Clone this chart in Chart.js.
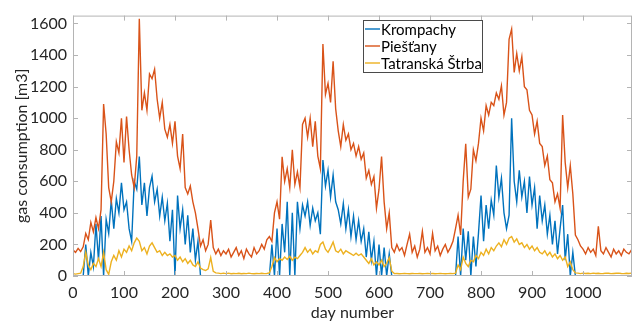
<!DOCTYPE html>
<html>
<head>
<meta charset="utf-8">
<script src="https://cdn.jsdelivr.net/npm/chart.js@4"></script>
<style>
  body { margin: 0; background: #fff; }
  #wrap { width: 637px; height: 322px; }
</style>
</head>
<body>
<div id="wrap"><canvas id="gas" width="637" height="322"></canvas></div>
<script>
// day numbers, sampled every 5 days
const days = Array.from({ length: 220 }, (_, i) => i * 5);

const krompachy = [
  0, 0, 0, 0, 0, 200, 0, 150, 60, 330, 100, 380, 0, 360, 270, 480, 300, 490, 400, 590,
  420, 470, 300, 220, 600, 550, 757, 450, 590, 380, 560, 633, 470, 550, 380, 500, 350, 460, 220, 420,
  0, 510, 300, 420, 200, 385, 150, 300, 100, 220, 0, 0, 0, 0, 0, 0, 0, 0, 0, 0,
  0, 0, 0, 0, 0, 0, 0, 0, 0, 0, 0, 0, 0, 0, 0, 0, 0, 0, 200, 0,
  300, 0, 330, 150, 470, 0, 400, 0, 470, 300, 450, 380, 470, 320, 430, 350, 400, 265, 735, 570,
  670, 500, 640, 470, 420, 330, 460, 300, 420, 250, 380, 230, 350, 220, 300, 120, 280, 100, 220, 0,
  200, 0, 180, 0, 140, 0, 0, 0, 0, 0, 0, 0, 0, 0, 0, 0, 0, 0, 0, 0,
  0, 0, 0, 0, 0, 0, 0, 0, 0, 0, 0, 250, 0, 300, 100, 283, 0, 250, 60, 270,
  510, 220, 450, 300, 480, 385, 700, 500, 620, 400, 300, 385, 1000, 600, 470, 670, 500, 600, 400, 630,
  450, 560, 300, 510, 350, 450, 265, 385, 200, 350, 140, 300, 450, 100, 265, 0, 150, 0, 0, 0,
  0, 0, 0, 0, 0, 0, 0, 0, 0, 0, 0, 0, 0, 0, 0, 0, 0, 0, 0, 0
];

const piestany = [
  165, 150, 175, 155, 185, 270, 230, 340, 280, 370, 300, 420, 1090, 900, 560, 470, 600, 850, 780, 1000,
  720, 1010, 800, 640, 560, 760, 1630, 1050, 1160, 1050, 1280, 1250, 1310, 1120, 1000, 1100, 930, 880, 960, 840,
  980, 760, 680, 900, 560, 520, 570, 470, 400, 300, 190, 230, 160, 200, 355, 180, 140, 170, 130, 160,
  140, 170, 120, 150, 180, 130, 160, 110, 170, 140, 120, 180, 140, 160, 200, 170, 230, 250, 220, 400,
  470, 360, 755, 600, 680, 560, 800, 580, 660, 560, 960, 1000, 880, 1000, 820, 980, 760, 680, 1470, 1150,
  1220, 1100, 1360, 1060, 920, 820, 960, 860, 900, 800, 840, 760, 820, 740, 780, 620, 670, 580, 630, 430,
  550, 757, 470, 300, 400, 180, 150, 200, 160, 180, 130, 200, 265, 150, 190, 120, 170, 283, 150, 180,
  140, 270, 160, 190, 130, 170, 200, 150, 180, 220, 300, 385, 260, 600, 837, 500, 550, 800, 730, 840,
  1000, 920, 1080, 1020, 1100, 1080, 1160, 1120, 1205, 1020, 1100, 1500, 1565, 1290, 1410, 1300, 1390, 1200, 1180, 1050,
  1020, 900, 980, 840, 820, 700, 760, 610, 590, 470, 520, 430, 1020, 720, 560, 700, 520, 260, 230, 190,
  170, 140, 180, 150, 170, 130, 315, 160, 140, 180, 150, 120, 170, 140, 160, 130, 170, 150, 140, 165
];

const tatranska = [
  15, 12, 15, 18, 60, 150, 70, 40, 80, 60, 110, 60, 150, 40, 10, 90, 130, 100, 160, 120,
  170, 150, 190, 160, 210, 240, 220, 160, 180, 140, 190, 210, 180, 150, 160, 130, 150, 130, 140, 120,
  130, 100, 120, 90, 110, 80, 100, 70, 60, 90, 50, 40, 35, 45, 117, 30, 20, 18, 15, 18,
  15, 18, 14, 16, 15, 17, 14, 16, 15, 18, 15, 14, 16, 15, 17, 15, 16, 20, 60, 117,
  90, 110, 100, 120, 105, 125, 100, 120, 110, 130, 150, 180, 150, 170, 140, 160, 150, 200, 215, 170,
  150, 180, 215, 160, 150, 170, 140, 160, 150, 140, 130, 145, 130, 140, 120, 100, 80, 110, 70, 90,
  70, 100, 60, 80, 117, 30, 15, 16, 14, 15, 16, 15, 14, 16, 15, 15, 16, 14, 15, 16,
  15, 16, 14, 15, 16, 15, 14, 15, 16, 15, 18, 70, 40, 120, 80, 60, 100, 90, 130, 110,
  150, 130, 170, 140, 180, 160, 190, 210, 185, 230, 200, 240, 250, 215, 235, 200, 210, 180, 200, 170,
  190, 160, 180, 150, 140, 160, 130, 150, 120, 140, 110, 130, 100, 120, 60, 90, 40, 20, 18, 15,
  18, 16, 17, 15, 18, 16, 17, 15, 16, 18, 17, 15, 16, 17, 18, 16, 15, 17, 16, 18
];

const seriesNames = ['Krompachy', 'Piešťany', 'Tatranská Štrba'];
const seriesColors = ['#0072BD', '#D95319', '#EDB120'];

const xTickValues = [0, 100, 200, 300, 400, 500, 600, 700, 800, 900, 1000];
const yTickValues = [0, 200, 400, 600, 800, 1000, 1200, 1400, 1600];

const xTitle = 'day number';
const yTitle = 'gas consumption [m3]';

const toPoints = vals => days.map((d, i) => ({ x: d, y: vals[i] }));

const axisColor = '#262626';
const tickFont = { family: 'Lato', size: 16 };

// box round the axes with inward ticks, matlab style
const boxPlugin = {
  id: 'box',
  afterDraw(chart) {
    const { ctx, chartArea: a, scales } = chart;
    ctx.save();
    ctx.strokeStyle = '#b4b4b4';
    ctx.lineWidth = 1;
    ctx.strokeRect(a.left + 0.5, a.top + 0.5, a.right - a.left - 1, a.bottom - a.top - 1);
    ctx.beginPath();
    scales.x.ticks.forEach(t => {
      const px = Math.round(scales.x.getPixelForValue(t.value)) + 0.5;
      ctx.moveTo(px, a.bottom); ctx.lineTo(px, a.bottom - 5);
      ctx.moveTo(px, a.top); ctx.lineTo(px, a.top + 5);
    });
    scales.y.ticks.forEach(t => {
      const py = Math.round(scales.y.getPixelForValue(t.value)) + 0.5;
      ctx.moveTo(a.left, py); ctx.lineTo(a.left + 5, py);
      ctx.moveTo(a.right, py); ctx.lineTo(a.right - 5, py);
    });
    ctx.stroke();
    ctx.restore();
  }
};

// legend box in the upper middle of the plot
const legendPlugin = {
  id: 'boxLegend',
  afterDraw(chart) {
    const ctx = chart.ctx;
    const left = 363, top = 20, right = 482, bottom = 72;
    ctx.save();
    ctx.fillStyle = '#fff';
    ctx.fillRect(left, top, right - left, bottom - top);
    ctx.strokeStyle = '#4a4a4a';
    ctx.lineWidth = 1;
    ctx.strokeRect(left + 0.5, top + 0.5, right - left, bottom - top);
    ctx.font = '15px Lato';
    ctx.textBaseline = 'middle';
    seriesNames.forEach((name, i) => {
      const y = 29 + i * 17;
      ctx.strokeStyle = seriesColors[i];
      ctx.lineWidth = 1.4;
      ctx.beginPath();
      ctx.moveTo(365, y); ctx.lineTo(380, y);
      ctx.stroke();
      ctx.fillStyle = '#000';
      ctx.fillText(name, 381, y + 1);
    });
    ctx.restore();
  }
};

const fixedTicks = values => scale => {
  scale.ticks = values.map(v => ({ value: v }));
};

new Chart(document.getElementById('gas'), {
  type: 'line',
  data: {
    datasets: [
      { label: seriesNames[0], data: toPoints(krompachy), borderColor: seriesColors[0], order: 3 },
      { label: seriesNames[1], data: toPoints(piestany), borderColor: seriesColors[1], order: 2 },
      { label: seriesNames[2], data: toPoints(tatranska), borderColor: seriesColors[2], order: 1 }
    ]
  },
  options: {
    responsive: false,
    animation: false,
    devicePixelRatio: 1,
    elements: {
      point: { radius: 0 },
      line: { borderWidth: 1.4, tension: 0 }
    },
    layout: { padding: { top: 9, right: 5, left: 0, bottom: 0 } },
    plugins: {
      legend: { display: false },
      tooltip: { enabled: false }
    },
    scales: {
      x: {
        type: 'linear',
        min: 0,
        max: 1096,
        afterBuildTicks: fixedTicks(xTickValues),
        afterFit: s => { s.height = 46; },
        grid: { display: false, drawTicks: false },
        border: { display: false },
        ticks: { color: axisColor, font: tickFont, padding: 7, maxRotation: 0, autoSkip: false, callback: v => String(v) },
        title: { display: true, text: xTitle, color: axisColor, font: tickFont, padding: { top: 0, bottom: 0 } }
      },
      y: {
        min: 0,
        max: 1650,
        afterBuildTicks: fixedTicks(yTickValues),
        afterFit: s => { s.width = 73; },
        grid: { display: false, drawTicks: false },
        border: { display: false },
        ticks: { color: axisColor, font: tickFont, padding: 6, autoSkip: false, callback: v => String(v) },
        title: { display: true, text: yTitle, color: axisColor, font: tickFont, padding: { top: 12, bottom: 0 } }
      }
    }
  },
  plugins: [boxPlugin, legendPlugin]
});
</script>
</body>
</html>
